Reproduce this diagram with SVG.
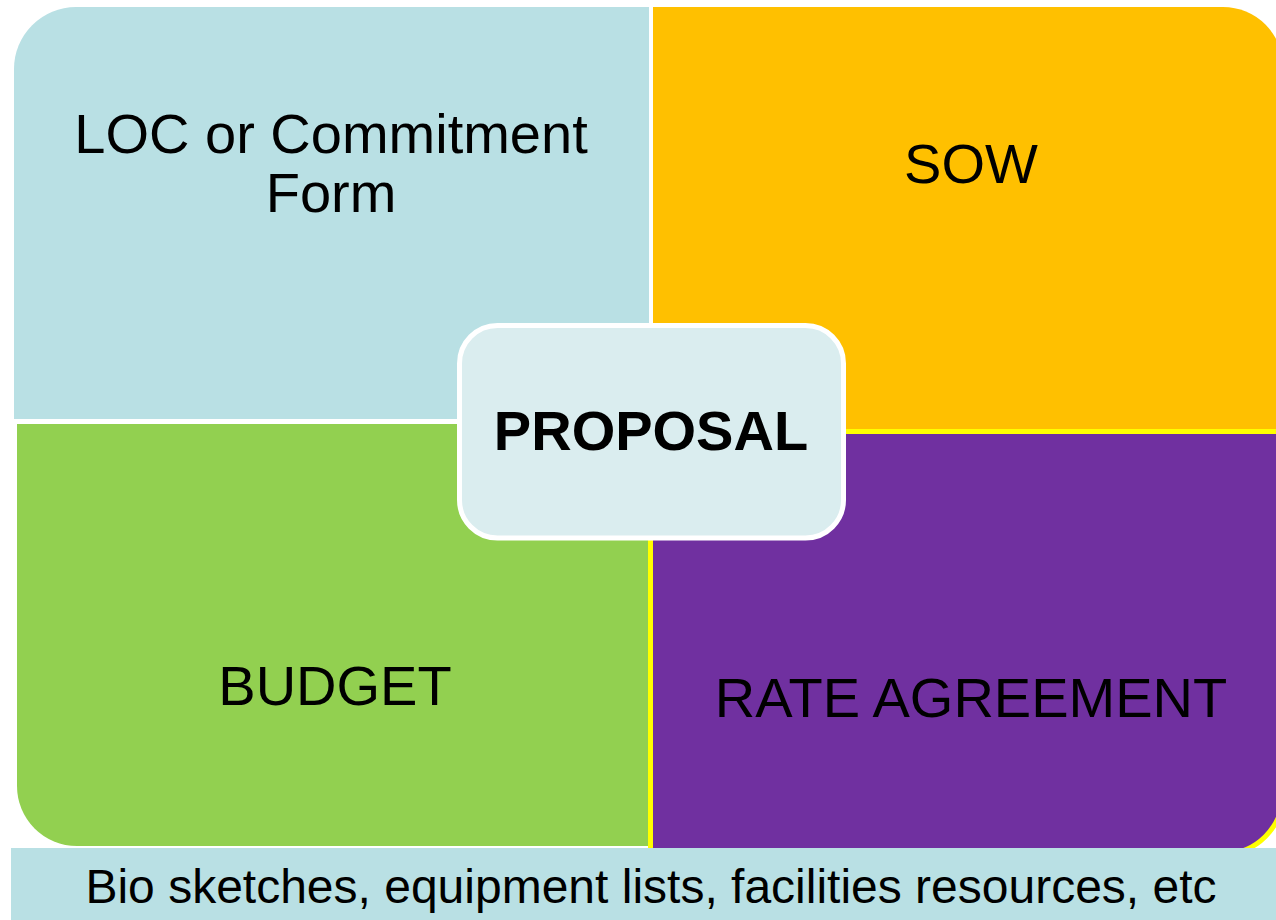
<svg xmlns="http://www.w3.org/2000/svg" width="1276" height="920" viewBox="0 0 1276 920">
<style>
.lbl{font-family:"Liberation Sans",Arial,sans-serif;font-size:56px;fill:#000;text-anchor:middle}
.bold{font-weight:bold}
.foot{font-family:"Liberation Sans",Arial,sans-serif;font-size:48px;fill:#000;text-anchor:middle}
</style>
<rect x="0" y="0" width="1276" height="920" fill="#FFFFFF"/>
<g id="node-loc">
<path d="M14,69 A62,62 0 0 1 76,7 L649,7 L649,419 L14,419 Z" fill="#B9E0E4"/>
<text class="lbl" x="331" y="153">LOC or Commitment</text>
<text class="lbl" x="331" y="212">Form</text>
</g>
<g id="node-sow">
<path d="M653,7 L1223,7 A60,60 0 0 1 1283,67 L1283,429 L653,429 Z" fill="#FFC000"/>
<text class="lbl" x="971" y="183">SOW</text>
</g>
<g id="node-budget">
<path d="M17,424 L648,424 L648,846 L77,846 A60,60 0 0 1 17,786 Z" fill="#92D050"/>
<text class="lbl" x="335" y="705">BUDGET</text>
</g>
<g id="node-rate">
<path d="M650.5,431.5 L1283,431.5 L1283,794 A60,60 0 0 1 1223,854 L650.5,854 Z" fill="#7030A0" stroke="#FFFF00" stroke-width="5"/>
<text class="lbl" x="971" y="717">RATE AGREEMENT</text>
</g>
<g id="node-footer">
<rect x="11" y="848" width="1270" height="72" fill="#B9E0E4"/>
<text class="foot" x="651" y="903">Bio sketches, equipment lists, facilities resources, etc</text>
</g>
<g id="node-proposal">
<rect x="459.5" y="325.5" width="384" height="212.5" rx="38" ry="38" fill="#DAEDEF" stroke="#FFFFFF" stroke-width="5"/>
<text class="lbl bold" x="651" y="450">PROPOSAL</text>
</g>
<g id="connectors"></g>
</svg>
